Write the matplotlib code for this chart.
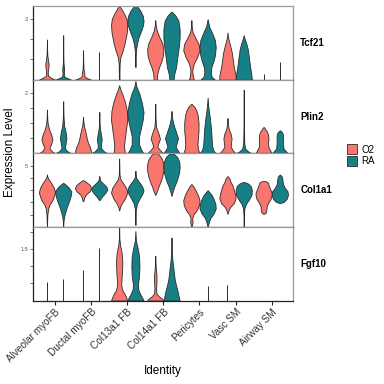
import matplotlib
matplotlib.use("Agg")
import matplotlib.pyplot as plt
from matplotlib.patches import Patch
import numpy as np

plt.rcParams['font.family'] = ['Liberation Sans', 'DejaVu Sans']

cell_types = ["Alveolar myoFB", "Ductal myoFB", "Col13a1 FB", "Col14a1 FB",
              "Pericytes", "Vasc SM", "Airway SM"]
conditions = ["O2", "RA"]
genes = ["Tcf21", "Plin2", "Col1a1", "Fgf10"]
y_top = [3.62, 2.42, 6.0, 2.14]
y_step = [1, 0.5, 1, 0.5]
y_shown = [3, 2, 5, 1.5]   # the one tick label each panel shows

# each violin: (expression levels, relative density)
# a bare number is a lone line up to that level, None = nothing drawn
tcf21_o2 = [
    ([0, .1, .2, .4, .6, .8, 1.0, 1.2, 1.5, 1.98], [1, .5, .12, .1, .18, .2, .12, .05, .02, 0]),
    ([0, .08, .15, .25, .35, .5, .8, 1.45], [1, .5, .2, .15, .15, .06, .03, 0]),
    ([0, .4, .8, 1.1, 1.45, 1.8, 2.3, 2.7, 3.0, 3.25, 3.5, 3.62], [.04, .04, .06, .15, .45, .68, .93, 1, .9, .6, .25, .05]),
    ([0, .3, .6, .9, 1.2, 1.5, 1.8, 2.1, 2.4, 2.7, 2.93], [.2, .25, .45, .75, .95, 1, .85, .5, .2, .05, 0]),
    ([0, .25, .5, .8, 1.1, 1.45, 1.75, 2.05, 2.35, 2.6, 2.93], [.3, .15, .12, .3, .7, 1, .9, .5, .15, .05, 0]),
    ([0, .2, .4, .7, 1.0, 1.3, 1.6, 1.9, 2.1, 2.32], [1, 1, .9, .75, .65, .55, .38, .18, .06, 0]),
    0.3,
]
tcf21_ra = [
    ([0, .08, .15, .3, .5, .6, .8, 1.2, 2.19], [1, .5, .15, .08, .12, .1, .04, .02, 0]),
    1.37,
    ([.63, 1.0, 1.4, 1.8, 2.1, 2.4, 2.7, 2.9, 3.15, 3.4, 3.62], [.02, .03, .06, .2, .4, .7, .95, 1, .9, .6, .2]),
    ([0, .3, .6, .9, 1.2, 1.5, 1.8, 2.1, 2.5, 2.9, 3.15, 3.34], [.25, .35, .55, .65, .75, .85, .95, 1, 1, .85, .5, .05]),
    ([0, .15, .35, .6, .9, 1.2, 1.6, 1.95, 2.3, 2.6, 2.98], [.9, .5, .4, .45, .7, .9, 1, .9, .55, .2, 0]),
    ([0, .3, .6, .9, 1.2, 1.5, 1.8, 2.0, 2.19], [1, .92, .8, .7, .6, .5, .3, .12, 0]),
    0.88,
]
plin2_o2 = [
    ([0, .08, .18, .3, .45, .6, .8, 1.0, 1.2, 1.44], [1, .55, .3, .5, .68, .55, .25, .08, .03, 0]),
    ([0, .1, .2, .35, .5, .7, .9, 1.05, 1.2], [1, .95, .85, .6, .45, .3, .12, .04, 0]),
    ([0, .25, .5, .8, 1.1, 1.4, 1.7, 1.95, 2.1, 2.24], [.7, .6, .7, .85, 1, .95, .7, .38, .15, 0]),
    ([0, .1, .22, .32, .48, .65, .85, 1.1, 1.63], [1, .6, .25, .35, .58, .4, .12, .04, 0]),
    ([0, .15, .3, .5, .75, 1.0, 1.25, 1.4, 1.52, 1.63], [1, .8, .75, .8, .88, .88, .78, .62, .4, 0]),
    ([0, .1, .22, .35, .5, .65, .8, 1.0, 1.16], [1, .65, .38, .45, .5, .38, .15, .04, 0]),
    ([0, .1, .2, .35, .5, .62, .72, .8, .87], [1, .8, .6, .55, .6, .55, .4, .2, 0]),
]
plin2_ra = [
    ([0, .08, .18, .3, .5, .7, .9, 1.2, 1.71], [1, .45, .2, .28, .4, .3, .12, .04, 0]),
    ([0, .08, .18, .3, .45, .6, .8, 1.0, 1.36], [1, .5, .2, .2, .3, .22, .08, .03, 0]),
    ([0, .12, .3, .55, .8, 1.1, 1.35, 1.65, 1.95, 2.2, 2.38], [1, .7, .45, .45, .65, .9, 1, .8, .5, .12, 0]),
    ([0, .1, .22, .35, .5, .7, .9, 1.1, 1.25, 1.39], [1, .75, .5, .65, .8, .55, .3, .12, .04, 0]),
    ([0, .1, .25, .45, .7, .9, 1.15, 1.4, 1.6, 1.83], [1, .7, .55, .5, .45, .38, .28, .15, .06, 0]),
    ([0, .07, .15, .3, .5, .8, 1.2, 2.09], [1, .5, .2, .08, .05, .03, .02, 0]),
    ([0, .08, .16, .3, .5, .62, .7, .76], [1, .7, .45, .4, .4, .38, .25, 0]),
]
col1a1_o2 = [
    ([.05, .5, 1.0, 1.5, 1.8, 2.2, 2.8, 3.2, 3.55, 3.9, 4.1, 4.28], [0, .03, .05, .15, .3, .7, 1, .85, .55, .2, .05, 0]),
    ([2.11, 2.4, 2.65, 2.9, 3.15, 3.4, 3.6, 3.75, 3.82], [.05, .15, .35, .8, 1, .85, .5, .2, 0]),
    ([1.33, 1.6, 1.9, 2.3, 2.8, 3.2, 3.6, 3.9, 4.3, 5.0, 5.58], [0, .1, .3, .7, 1, .85, .45, .15, .04, .02, 0]),
    ([2.6, 2.9, 3.3, 3.7, 4.1, 4.6, 5.1, 5.5, 5.85, 6.0], [0, .2, .4, .65, .85, 1, 1, .85, .5, .3]),
    ([.08, .4, .7, 1.0, 1.35, 1.8, 2.2, 2.6, 3.0, 3.3, 3.5], [.05, .15, .1, .25, .65, .95, 1, .8, .5, .25, 0]),
    ([1.06, 1.3, 1.6, 1.95, 2.35, 2.75, 3.1, 3.4, 3.7, 3.95, 4.15], [0, .1, .3, .8, 1, .9, .75, .6, .35, .25, 0]),
    ([1.06, 1.15, 1.4, 1.7, 2.0, 2.4, 2.75, 3.1, 3.4, 3.6, 3.7, 3.76], [0, .25, .35, .38, .6, .95, 1, .8, .62, .55, .35, 0]),
]
col1a1_ra = [
    ([.05, .4, .8, 1.2, 1.65, 2.1, 2.6, 2.9, 3.2, 3.45, 3.6], [0, .03, .1, .25, .46, .72, .95, 1, .7, .3, 0]),
    ([2.2, 2.45, 2.75, 3.05, 3.3, 3.55, 3.75, 3.95, 4.15], [.05, .3, .7, 1, .85, .45, .15, .05, 0]),
    ([.16, .8, 1.4, 1.9, 2.3, 2.7, 3.0, 3.35, 3.7, 4.0, 4.3, 4.58], [0, .02, .05, .2, .5, .85, 1, .8, .4, .1, .03, 0]),
    ([2.52, 2.9, 3.3, 3.7, 4.1, 4.5, 4.9, 5.3, 5.7, 5.95], [0, .15, .35, .6, .8, .95, 1, .95, .7, .3]),
    ([.08, .4, .75, 1.1, 1.5, 1.9, 2.3, 2.6, 2.85, 3.0], [.05, .15, .35, .75, 1, .95, .72, .5, .2, 0]),
    ([.02, .5, 1.0, 1.5, 1.85, 2.2, 2.6, 3.0, 3.35, 3.55, 3.68], [0, .02, .03, .08, .25, .6, .95, 1, .85, .5, 0]),
    ([1.93, 2.05, 2.3, 2.6, 2.9, 3.2, 3.5, 3.85, 4.1, 4.28], [0, .5, .85, 1, .95, .6, .38, .32, .25, 0]),
]
fgf10_o2 = [
    0.53,
    0.88,
    ([0, .1, .2, .3, .45, .6, .85, 1.1, 1.4, 1.6, 1.8, 2.12], [1, .85, .65, .4, .25, .28, .35, .4, .3, .12, .03, 0]),
    ([0, .06, .12, .2, .35, .55, .75, .95, 1.15, 1.3], [1, .8, .45, .15, .1, .15, .15, .06, .02, 0]),
    None,
    0.46,
    None,
]
fgf10_ra = [
    0.64,
    1.53,
    ([0, .1, .2, .35, .5, .7, 1.0, 1.3, 1.55, 1.75, 2.02], [1, .8, .55, .32, .32, .45, .5, .45, .25, .06, 0]),
    ([0, .15, .3, .45, .6, .8, 1.0, 1.2, 1.45, 1.83], [1, .85, .72, .55, .4, .3, .2, .1, .04, 0]),
    0.43,
    None,
    None,
]

data = {"Tcf21": (tcf21_o2, tcf21_ra), "Plin2": (plin2_o2, plin2_ra),
        "Col1a1": (col1a1_o2, col1a1_ra), "Fgf10": (fgf10_o2, fgf10_ra)}

colors = {"O2": "#F8766D", "RA": "#168086"}
edge = "#2b2b2b"
offsets = {"O2": -0.225, "RA": 0.225}

fig, axes = plt.subplots(4, 1, figsize=(3.84, 3.84), dpi=100, sharex=True,
                         gridspec_kw={'hspace': 0})
fig.subplots_adjust(left=0.087, right=0.764, top=0.984, bottom=0.2174)

for k, (ax, gene) in enumerate(zip(axes, genes)):
    for cond, violins in zip(conditions, data[gene]):
        for i, v in enumerate(violins):
            pos = i + offsets[cond]
            if v is None:
                continue
            if isinstance(v, float):
                ax.vlines(pos, 0, v, color=edge, lw=0.7)
                continue
            levels, dens = v
            stats = [dict(coords=levels, vals=dens, mean=np.mean(levels),
                          median=np.median(levels), min=levels[0], max=levels[-1])]
            parts = ax.violin(stats, positions=[pos], widths=0.45, showextrema=False)
            for b in parts['bodies']:
                b.set_facecolor(colors[cond])
                b.set_edgecolor(edge)
                b.set_linewidth(0.6)
                b.set_alpha(1)

    ax.set_xlim(-0.6, 6.6)
    ax.set_ylim(0, y_top[k])
    ticks = np.arange(y_step[k], y_top[k], y_step[k])
    ax.set_yticks(ticks)
    ax.set_yticklabels([f"{t:g}" if abs(t - y_shown[k]) < 1e-9 else "" for t in ticks])
    ax.tick_params(axis='y', length=2.5, width=0.6, color='#555555',
                   labelsize=4, labelcolor='#555555', pad=1.5)
    for side in ['left', 'bottom']:
        ax.spines[side].set_color('#222222')
        ax.spines[side].set_linewidth(0.9)
    for side in ['top', 'right']:
        ax.spines[side].set_color('#9a9a9a')
        ax.spines[side].set_linewidth(0.9)
    ax.text(1.026, 0.5, gene, transform=ax.transAxes, fontweight='bold',
            fontsize=7, va='center', ha='left')
    if k < 3:
        ax.tick_params(axis='x', length=0)

bottom = axes[-1]
bottom.set_xticks(range(len(cell_types)))
bottom.set_xticklabels(cell_types, rotation=45, ha='right', rotation_mode='anchor')
bottom.tick_params(axis='x', length=3, width=0.8, color='#222222',
                   labelsize=7.2, labelcolor='#333333', pad=1.5)

fig.text(0.026, 0.603, "Expression Level", rotation=90, va='center', ha='center', fontsize=8.5)
fig.text(0.425, 0.0326, "Identity", ha='center', va='center', fontsize=8.5)

handles = [Patch(facecolor=colors[c], edgecolor=edge, linewidth=0.6, label=c) for c in conditions]
fig.legend(handles=handles, loc='center left', bbox_to_anchor=(0.893, 0.596),
           frameon=False, fontsize=7, handlelength=1.1, handleheight=1.2,
           handletextpad=0.4, labelspacing=0.1, borderaxespad=0)

fig.savefig("out.png", dpi=100)
